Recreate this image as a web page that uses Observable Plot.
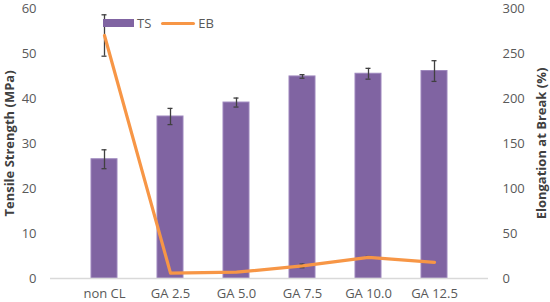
<!DOCTYPE html>
<html>
<head>
<meta charset="utf-8">
<script src="https://cdn.jsdelivr.net/npm/d3@7"></script>
<script src="https://cdn.jsdelivr.net/npm/@observablehq/plot@0.6"></script>
<style>
  html, body { margin: 0; padding: 0; background: #fff; }
  #wrap { position: relative; width: 550px; height: 302px; font-family: "Open Sans", sans-serif; }
  #legend { position: absolute; left: 103px; top: 14px; display: flex; align-items: center; font-size: 13px; color: #595959; }
  .sw-bar { width: 31px; height: 8px; background: #8064A2; margin-right: 3px; }
  .sw-line { width: 34px; height: 3px; background: #F79646; border-radius: 2px; margin-left: 10px; margin-right: 3px; }
</style>
</head>
<body>
<div id="wrap"><div id="legend"><span class="sw-bar"></span><span>TS</span><span class="sw-line"></span><span>EB</span></div></div>
<script>
const categories = ["non CL", "GA 2.5", "GA 5.0", "GA 7.5", "GA 10.0", "GA 12.5"];
const tsValues = [26.5, 36.0, 39.1, 44.9, 45.5, 46.1];
const tsErrors = [2.1, 1.8, 1.0, 0.4, 1.2, 2.3];
const ebValues = [270, 6, 7, 14, 23.5, 18];
const ebErrors = [23, 0, 0, 2, 1, 0];
const leftTicks = [0, 10, 20, 30, 40, 50, 60];
const rightTicks = [0, 50, 100, 150, 200, 250, 300];

const ratio = 5; // right axis (EB) / left axis (TS)
const data = categories.map((c, i) => ({
  cat: c, ts: tsValues[i], tsErr: tsErrors[i], eb: ebValues[i], ebErr: ebErrors[i]
}));
const ebData = data.filter(d => d.ebErr > 0);

const textColor = "#595959";
const capInset = 10.5;
const chart = Plot.plot({
  width: 550,
  height: 302,
  marginTop: 8,
  marginBottom: 24,
  marginLeft: 50,
  marginRight: 62,
  style: { fontFamily: "'Open Sans', sans-serif", fontSize: "13px", color: textColor, background: "transparent" },
  x: { domain: categories, padding: 0.6, align: 0.5, label: null },
  y: { domain: [0, 60], label: null },
  marks: [
    Plot.barY(data, { x: "cat", y: "ts", fill: "#8064A2", stroke: "#9d86bd", strokeWidth: 1 }),
    Plot.ruleY([0], { stroke: "#d9d9d9", strokeWidth: 1.5 }),
    Plot.ruleX(data, { x: "cat", y1: d => d.ts - d.tsErr, y2: d => d.ts + d.tsErr, stroke: "#404040", strokeWidth: 1.3 }),
    Plot.tickY(data, { x: "cat", y: d => d.ts - d.tsErr, stroke: "#404040", strokeWidth: 1.3, insetLeft: capInset, insetRight: capInset }),
    Plot.tickY(data, { x: "cat", y: d => d.ts + d.tsErr, stroke: "#404040", strokeWidth: 1.3, insetLeft: capInset, insetRight: capInset }),
    Plot.ruleX(ebData, { x: "cat", y1: d => (d.eb - d.ebErr) / ratio, y2: d => (d.eb + d.ebErr) / ratio, stroke: "#404040", strokeWidth: 1.3 }),
    Plot.tickY(ebData, { x: "cat", y: d => (d.eb - d.ebErr) / ratio, stroke: "#404040", strokeWidth: 1.3, insetLeft: capInset, insetRight: capInset }),
    Plot.tickY(ebData, { x: "cat", y: d => (d.eb + d.ebErr) / ratio, stroke: "#404040", strokeWidth: 1.3, insetLeft: capInset, insetRight: capInset }),
    Plot.line(data, { x: "cat", y: d => d.eb / ratio, stroke: "#F79646", strokeWidth: 3.2, strokeLinecap: "round", strokeLinejoin: "round" }),
    Plot.axisX({ tickSize: 0, tickPadding: 10, fill: textColor, fontSize: "13px" }),
    Plot.axisY(leftTicks, { anchor: "left", tickSize: 0, tickPadding: 14, fill: textColor, fontSize: "13px", label: null }),
    Plot.axisY(rightTicks.map(v => v / ratio), { anchor: "right", tickSize: 0, tickPadding: 14, tickFormat: v => String(Math.round(v * ratio)), fill: textColor, fontSize: "13px", textAnchor: "start", label: null }),
    Plot.text(["Tensile Strength (MPa)"], { frameAnchor: "left", dx: -41, rotate: -90, textAnchor: "middle", fontWeight: "bold", fill: "#404040", fontSize: "13px" }),
    Plot.text(["Elongation at Break (%)"], { frameAnchor: "right", dx: 53, rotate: -90, textAnchor: "middle", fontWeight: "bold", fill: "#404040", fontSize: "13px" })
  ]
});
document.getElementById("wrap").prepend(chart);
</script>
</body>
</html>
